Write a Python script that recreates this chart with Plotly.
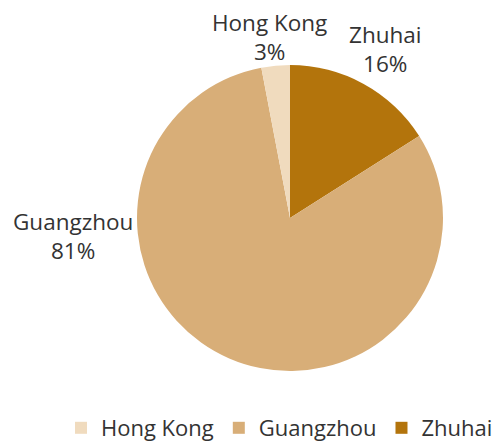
import plotly.graph_objects as go

labels = ["Zhuhai", "Guangzhou", "Hong Kong"]
values = [16, 81, 3]
colors = ["#B3740C", "#D8AE78", "#F0DBBE"]

# page body has an 8px default margin, so the figure is a little smaller
OFF = 8
W, H = 504 - OFF, 443 - OFF
cx, cy, r = 290 - OFF, 218 - OFF, 153

# label anchor positions (pixels from window top-left) for outside labels
label_px = {"Hong Kong": (269, 37), "Guangzhou": (73, 236), "Zhuhai": (385, 49)}

fig = go.Figure(go.Pie(
    labels=labels, values=values, sort=False,
    direction="clockwise", rotation=0,
    marker=dict(colors=colors, line=dict(width=0)),
    textinfo="none", hoverinfo="label+percent",
    domain=dict(x=[(cx - r) / W, (cx + r) / W], y=[(H - cy - r) / H, (H - cy + r) / H]),
))

for lab, val in zip(labels, values):
    px, py = label_px[lab]
    fig.add_annotation(x=(px - OFF) / W, y=1 - (py - OFF) / H, xref="paper", yref="paper",
                       showarrow=False, text=f"{lab}<br>{val}%", align="center",
                       xanchor="center", yanchor="middle",
                       font=dict(family="Open Sans", size=22.5, color="#333333"))

fig.update_layout(
    width=W, height=H, margin=dict(l=0, r=0, t=0, b=0, autoexpand=False),
    paper_bgcolor="white", plot_bgcolor="white",
    font=dict(family="Open Sans", size=22, color="#333333"),
    showlegend=True,
    legend=dict(orientation="h", traceorder="reversed", x=(76 - OFF - 15) / W, xanchor="left",
                y=(H - (428 - OFF)) / H, yanchor="middle",
                font=dict(size=22), itemwidth=30),
)

fig.write_html("out.html")
